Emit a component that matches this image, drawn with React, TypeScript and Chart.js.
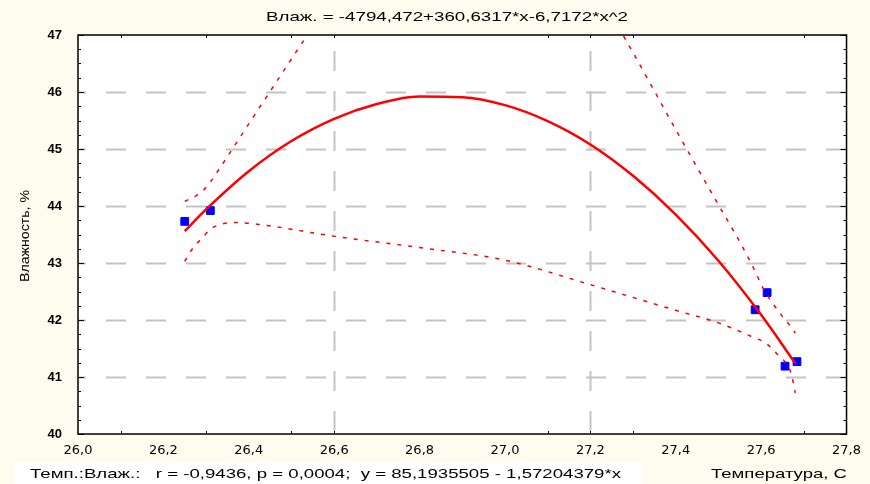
import React, { useEffect, useRef } from "react";
import { Chart, registerables } from "chart.js";
Chart.register(...registerables);

const titleText = "Влаж. = -4794,472+360,6317*x-6,7172*x^2";
const footerLeft = "Темп.:Влаж.:   r = -0,9436, p = 0,0004;  y = 85,1935505 - 1,57204379*x";
const footerRight = "Температура, С";
const yTitle = "Влажность, %";

const xMin = 26;
const xMax = 27.8;
const yMin = 40;
const yMax = 47;
const xGridValues = [26.6, 27.2];
const yGridValues = [41, 42, 43, 44, 45, 46];
const xMinorTicks = [26.1, 26.3, 26.5, 26.6, 27.1, 27.2, 27.3, 27.7];

// observed points
const pointsX = [26.25, 26.31, 27.586, 27.614, 27.656, 27.684];
const pointsY = [43.73, 43.92, 42.18, 42.48, 41.19, 41.27];

// fitted curve
const fitX = [26.25, 26.3, 26.4, 26.5, 26.6, 26.7, 26.8, 26.9, 27.0, 27.1, 27.2, 27.3, 27.4, 27.5, 27.6, 27.68];
const fitY = [43.56, 43.94, 44.61, 45.14, 45.53, 45.79, 45.92, 45.91, 45.77, 45.49, 45.08, 44.53, 43.85, 43.04, 42.09, 41.24];

// upper confidence band, left part
const upLX = [26.25, 26.29, 26.31, 26.33, 26.4, 26.5, 26.6];
const upLY = [44.08, 44.25, 44.42, 44.64, 45.44, 46.58, 47.7];
// upper confidence band, right part
const upRX = [27.2, 27.3, 27.4, 27.5, 27.55, 27.59, 27.6, 27.65, 27.67, 27.68];
const upRY = [47.98, 46.69, 45.34, 44.02, 43.37, 42.79, 42.62, 42.06, 41.88, 41.77];
// lower confidence band
const lowX = [26.25, 26.27, 26.29, 26.31, 26.34, 26.37, 26.43, 26.6, 26.8, 27.0, 27.2, 27.4, 27.5, 27.55, 27.58, 27.61, 27.64, 27.67, 27.68];
const lowY = [43.03, 43.27, 43.43, 43.59, 43.69, 43.71, 43.67, 43.47, 43.27, 43.05, 42.62, 42.17, 41.95, 41.8, 41.7, 41.6, 41.38, 41.07, 40.72];

const zip = (xs: number[], ys: number[]) => xs.map((x, i) => ({ x, y: ys[i] }));

const CREAM = "#fefbef";

function drawStretched(ctx: CanvasRenderingContext2D, text: string, x: number, y: number, font: string, targetW: number, align: "left" | "center" | "right") {
  ctx.save();
  ctx.font = font;
  ctx.textBaseline = "middle";
  ctx.textAlign = "left";
  const w = ctx.measureText(text).width;
  const s = targetW / w;
  let left = x;
  if (align === "center") left = x - targetW / 2;
  if (align === "right") left = x - targetW;
  ctx.translate(left, y);
  ctx.scale(s, 1);
  ctx.fillStyle = "#000";
  ctx.fillText(text, 0, 0);
  ctx.restore();
}

const decorPlugin = {
  id: "decor",
  beforeDraw(chart: any) {
    const { ctx, chartArea: a } = chart;
    ctx.save();
    ctx.fillStyle = CREAM;
    ctx.fillRect(0, 0, chart.width, chart.height);
    ctx.fillStyle = "#ffffff";
    ctx.fillRect(a.left, a.top, a.right - a.left, a.bottom - a.top);
    ctx.fillRect(14, 462, 628, 22);
    ctx.restore();
  },
  beforeDatasetsDraw(chart: any) {
    const { ctx, chartArea: a, scales } = chart;
    const xs = scales.x;
    const ys = scales.y;
    ctx.save();
    ctx.strokeStyle = "#c4c4c4";
    ctx.lineWidth = 2;
    ctx.setLineDash([20, 20]);
    yGridValues.forEach((v) => {
      const py = Math.round(ys.getPixelForValue(v)) + 0.5;
      ctx.lineDashOffset = -28;
      ctx.beginPath();
      ctx.moveTo(a.left, py);
      ctx.lineTo(a.right, py);
      ctx.stroke();
    });
    xGridValues.forEach((v) => {
      const px = Math.round(xs.getPixelForValue(v)) + 0.5;
      ctx.lineDashOffset = -16;
      ctx.beginPath();
      ctx.moveTo(px, a.top);
      ctx.lineTo(px, a.bottom);
      ctx.stroke();
    });
    ctx.restore();
  },
  afterDatasetsDraw(chart: any) {
    const { ctx, chartArea: a, scales } = chart;
    const xs = scales.x;
    const ys = scales.y;
    ctx.save();
    ctx.strokeStyle = "#000";
    ctx.lineWidth = 1.5;
    ctx.setLineDash([]);
    ctx.strokeRect(a.left, a.top, a.right - a.left, a.bottom - a.top);
    ctx.lineWidth = 1;
    ctx.beginPath();
    for (let k = 0; k <= (yMax - yMin) * 4; k++) {
      const v = yMin + k * 0.25;
      const py = Math.round(ys.getPixelForValue(v)) + 0.5;
      const len = k % 4 === 0 ? 6 : 3;
      ctx.moveTo(a.left, py);
      ctx.lineTo(a.left + len, py);
      ctx.moveTo(a.right, py);
      ctx.lineTo(a.right - len, py);
    }
    xMinorTicks.forEach((v) => {
      const px = Math.round(xs.getPixelForValue(v)) + 0.5;
      ctx.moveTo(px, a.bottom);
      ctx.lineTo(px, a.bottom - 3);
      ctx.moveTo(px, a.top);
      ctx.lineTo(px, a.top + 3);
    });
    ctx.stroke();
    ctx.restore();
  },
  afterDraw(chart: any) {
    const { ctx } = chart;
    drawStretched(ctx, titleText, 447, 17, "13px 'Liberation Sans'", 362, "center");
    drawStretched(ctx, footerLeft, 30, 474, "13px 'Liberation Sans'", 591, "left");
    drawStretched(ctx, footerRight, 847, 474, "13px 'Liberation Sans'", 136, "right");
    ctx.save();
    ctx.translate(25, 236);
    ctx.rotate(-Math.PI / 2);
    drawStretched(ctx, yTitle, 0, 0, "13px 'Liberation Sans'", 92, "center");
    ctx.restore();
  },
};

export default function App() {
  const ref = useRef<HTMLCanvasElement | null>(null);
  useEffect(() => {
    if (!ref.current) return;
    const chart = new Chart(ref.current, {
      type: "scatter",
      data: {
        datasets: [
          {
            label: "fit",
            data: zip(fitX, fitY),
            showLine: true,
            borderColor: "#ff0000",
            borderWidth: 2.5,
            pointRadius: 0,
            cubicInterpolationMode: "monotone",
          },
          {
            label: "upperL",
            data: zip(upLX, upLY),
            showLine: true,
            borderColor: "#ff0000",
            borderWidth: 1.5,
            borderDash: [4, 7],
            pointRadius: 0,
            cubicInterpolationMode: "monotone",
          },
          {
            label: "upperR",
            data: zip(upRX, upRY),
            showLine: true,
            borderColor: "#ff0000",
            borderWidth: 1.5,
            borderDash: [4, 7],
            pointRadius: 0,
            cubicInterpolationMode: "monotone",
          },
          {
            label: "lower",
            data: zip(lowX, lowY),
            showLine: true,
            borderColor: "#ff0000",
            borderWidth: 1.5,
            borderDash: [4, 7],
            pointRadius: 0,
            cubicInterpolationMode: "monotone",
          },
          {
            label: "points",
            data: zip(pointsX, pointsY),
            showLine: false,
            pointStyle: "rect",
            pointRadius: 5.5,
            pointBackgroundColor: "#0000ff",
            pointBorderColor: "#0000ff",
            pointBorderWidth: 1,
          },
        ],
      },
      options: {
        responsive: false,
        animation: false,
        layout: { padding: { left: 0, right: 17, top: 35, bottom: 0 } },
        plugins: { legend: { display: false }, tooltip: { enabled: false }, title: { display: false } },
        scales: {
          x: {
            type: "linear",
            min: xMin,
            max: xMax,
            afterFit: (s: any) => {
              s.height = 50;
            },
            grid: { display: false, drawTicks: false },
            border: { display: false },
            ticks: {
              stepSize: 0.2,
              padding: 9,
              color: "#000",
              font: { family: "'DejaVu Sans'", size: 13 },
              maxRotation: 0,
              autoSkip: false,
              callback: (v: any) => Number(v).toFixed(1).replace(".", ","),
            },
          },
          y: {
            type: "linear",
            min: yMin,
            max: yMax,
            afterFit: (s: any) => {
              s.width = 78;
            },
            grid: { display: false, drawTicks: false },
            border: { display: false },
            ticks: {
              stepSize: 1,
              padding: 16,
              color: "#000",
              font: { family: "'Liberation Sans'", size: 13, weight: "bold" },
              callback: (v: any) => String(v),
            },
          },
        },
      },
      plugins: [decorPlugin],
    } as any);
    return () => chart.destroy();
  }, []);
  return (
    <div style={{ position: "fixed", left: 0, top: 0, width: 870, height: 484, background: CREAM }}>
      <canvas ref={ref} width={870} height={484} />
    </div>
  );
}
